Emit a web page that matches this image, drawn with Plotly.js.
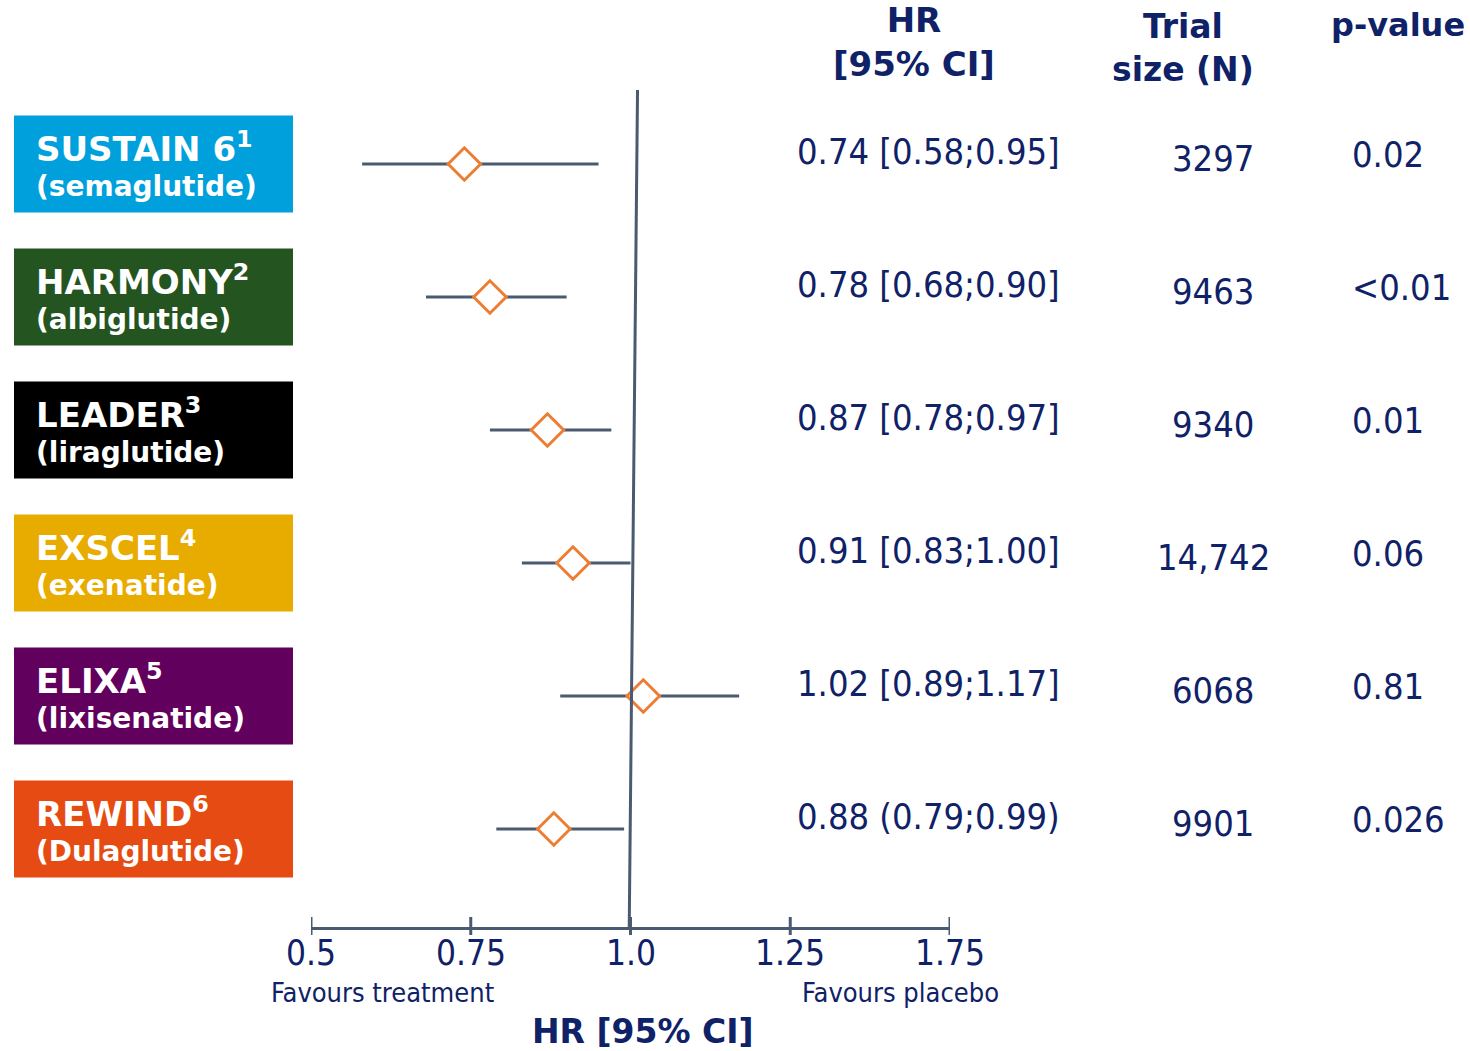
<!DOCTYPE html>
<html>
<head>
<meta charset="utf-8">
<script src="https://cdn.plot.ly/plotly-3.0.1.min.js"></script>
<style>html,body{margin:0;padding:0;background:#fff;}#chart{width:1470px;height:1051px;}</style>
</head>
<body>
<div id="chart"></div>
<script>
// ---- data ----
const trials = ["SUSTAIN 6", "HARMONY", "LEADER", "EXSCEL", "ELIXA", "REWIND"];
const refs = ["1", "2", "3", "4", "5", "6"];
const drugs = ["(semaglutide)", "(albiglutide)", "(liraglutide)", "(exenatide)", "(lixisenatide)", "(Dulaglutide)"];
const hr = [0.74, 0.78, 0.87, 0.91, 1.02, 0.88];
const ciLow = [0.58, 0.68, 0.78, 0.83, 0.89, 0.79];
const ciHigh = [0.95, 0.90, 0.97, 1.00, 1.17, 0.99];
const hrText = ["0.74 [0.58;0.95]", "0.78 [0.68;0.90]", "0.87 [0.78;0.97]", "0.91 [0.83;1.00]", "1.02 [0.89;1.17]", "0.88 (0.79;0.99)"];
const trialSize = ["3297", "9463", "9340", "14,742", "6068", "9901"];
const pValues = ["0.02", "<0.01", "0.01", "0.06", "0.81", "0.026"];
const tickVals = [0.5, 0.75, 1.0, 1.25, 1.5];
const tickText = ["0.5", "0.75", "1.0", "1.25", "1.75"];

// ---- styles ----
const boxColors = ["#00A0DC", "#245420", "#000000", "#E8AB00", "#62005E", "#E54B12"];
const navy = "#0F2167";
const lineCol = "#4A5A70";
const orange = "#ED7D31";
const W = 1470, H = 1051;
const rowTop = 164, rowStep = 133; // pixel layout of rows
const rows = trials.map((_, i) => i);
const px = v => v / W;
const pyToY = p => (p - rowTop) / rowStep;

const traces = [];
rows.forEach(i => {
  traces.push({
    type: "scatter", mode: "lines", x: [ciLow[i], ciHigh[i]], y: [i, i],
    line: {color: lineCol, width: 3}, hoverinfo: "skip", showlegend: false, cliponaxis: false
  });
});
traces.push({
  type: "scatter", mode: "markers", x: hr, y: rows,
  marker: {symbol: "diamond", size: 25, color: "#ffffff", line: {color: orange, width: 3}},
  showlegend: false, cliponaxis: false
});

const shapes = [];
const annotations = [];
const halfBox = 48.5 / rowStep;
const valFont = {family: "DejaVu Sans Condensed", size: 36, color: navy};
rows.forEach(i => {
  shapes.push({type: "rect", xref: "paper", yref: "y", x0: px(14), x1: px(293), y0: i - halfBox, y1: i + halfBox,
    fillcolor: boxColors[i], line: {width: 0}, layer: "below"});
  annotations.push({xref: "paper", yref: "y", x: px(34), y: i, yshift: 17, xanchor: "left", yanchor: "middle",
    text: "<b>" + trials[i] + "<sup>" + refs[i] + "</sup></b>", showarrow: false,
    font: {family: "DejaVu Sans", size: 34, color: "#ffffff"}});
  annotations.push({xref: "paper", yref: "y", x: px(34), y: i, yshift: -22, xanchor: "left", yanchor: "middle",
    text: "<b>" + drugs[i] + "</b>", showarrow: false, font: {family: "DejaVu Sans", size: 28, color: "#ffffff"}});
  annotations.push({xref: "paper", yref: "y", x: px(795), y: i, yshift: 13, xanchor: "left", yanchor: "middle",
    text: hrText[i], showarrow: false, font: valFont});
  annotations.push({xref: "paper", yref: "y", x: px(1213), y: i, yshift: 6, xanchor: "center", yanchor: "middle",
    text: trialSize[i], showarrow: false, font: valFont});
  annotations.push({xref: "paper", yref: "y", x: px(1350), y: i, yshift: 10, xanchor: "left", yanchor: "middle",
    text: pValues[i], showarrow: false, font: valFont});
});

// tick labels
tickVals.forEach((v, k) => {
  annotations.push({xref: "x", yref: "y", x: v, y: pyToY(953), xanchor: "center", yanchor: "middle",
    text: tickText[k], showarrow: false, font: {family: "DejaVu Sans Condensed", size: 35, color: navy}});
});

// headers
const hdrFont = {family: "DejaVu Sans", size: 33, color: navy};
annotations.push({xref: "paper", yref: "paper", x: px(914), y: 1 - 42 / H, xanchor: "center", yanchor: "middle",
  text: "<b>HR<br>[95% CI]</b>", showarrow: false, font: {family: "DejaVu Sans", size: 34, color: navy}});
annotations.push({xref: "paper", yref: "paper", x: px(1183), y: 1 - 48 / H, xanchor: "center", yanchor: "middle",
  text: "<b>Trial<br>size (N)</b>", showarrow: false, font: hdrFont});
annotations.push({xref: "paper", yref: "paper", x: px(1398), y: 1 - 25 / H, xanchor: "center", yanchor: "middle",
  text: "<b>p-value</b>", showarrow: false, font: {family: "DejaVu Sans", size: 32, color: navy}});
// bottom labels
const smallFont = {family: "DejaVu Sans Condensed", size: 27, color: navy};
annotations.push({xref: "paper", yref: "paper", x: px(383), y: 1 - 992 / H, xanchor: "center", yanchor: "middle",
  text: "Favours treatment", showarrow: false, font: smallFont});
annotations.push({xref: "paper", yref: "paper", x: px(901), y: 1 - 992 / H, xanchor: "center", yanchor: "middle",
  text: "Favours placebo", showarrow: false, font: smallFont});
annotations.push({xref: "paper", yref: "paper", x: px(643), y: 1 - 1031 / H, xanchor: "center", yanchor: "middle",
  text: "<b>HR [95% CI]</b>", showarrow: false, font: {family: "DejaVu Sans", size: 33, color: navy}});

// reference line at HR = 1 (slightly slanted as in the source)
const yTopLine = pyToY(90), yAxisLine = pyToY(928);
shapes.push({type: "line", xref: "x", yref: "y", x0: 1.011, x1: 0.998, y0: yTopLine, y1: yAxisLine,
  line: {color: lineCol, width: 3}});
// tick marks crossing the axis line
tickVals.forEach(v => {
  shapes.push({type: "line", xref: "x", yref: "y", x0: v, x1: v, y0: pyToY(917), y1: pyToY(935),
    line: {color: lineCol, width: 3}});
});

const layout = {
  width: W, height: H,
  margin: {l: 0, r: 0, t: 0, b: 0},
  paper_bgcolor: "#ffffff", plot_bgcolor: "rgba(0,0,0,0)",
  showlegend: false,
  xaxis: {
    domain: [px(311), px(950)], range: [0.5, 1.5], anchor: "free", position: 1 - 928 / H,
    showgrid: false, zeroline: false, showline: true, linecolor: lineCol, linewidth: 3,
    tickmode: "array", tickvals: tickVals, ticks: "", showticklabels: false, fixedrange: true
  },
  yaxis: {
    domain: [0, 1], range: [(H - rowTop) / rowStep, -rowTop / rowStep],
    visible: false, showgrid: false, zeroline: false, fixedrange: true
  },
  shapes: shapes,
  annotations: annotations
};

Plotly.newPlot("chart", traces, layout, {displayModeBar: false, staticPlot: true});
</script>
</body>
</html>
